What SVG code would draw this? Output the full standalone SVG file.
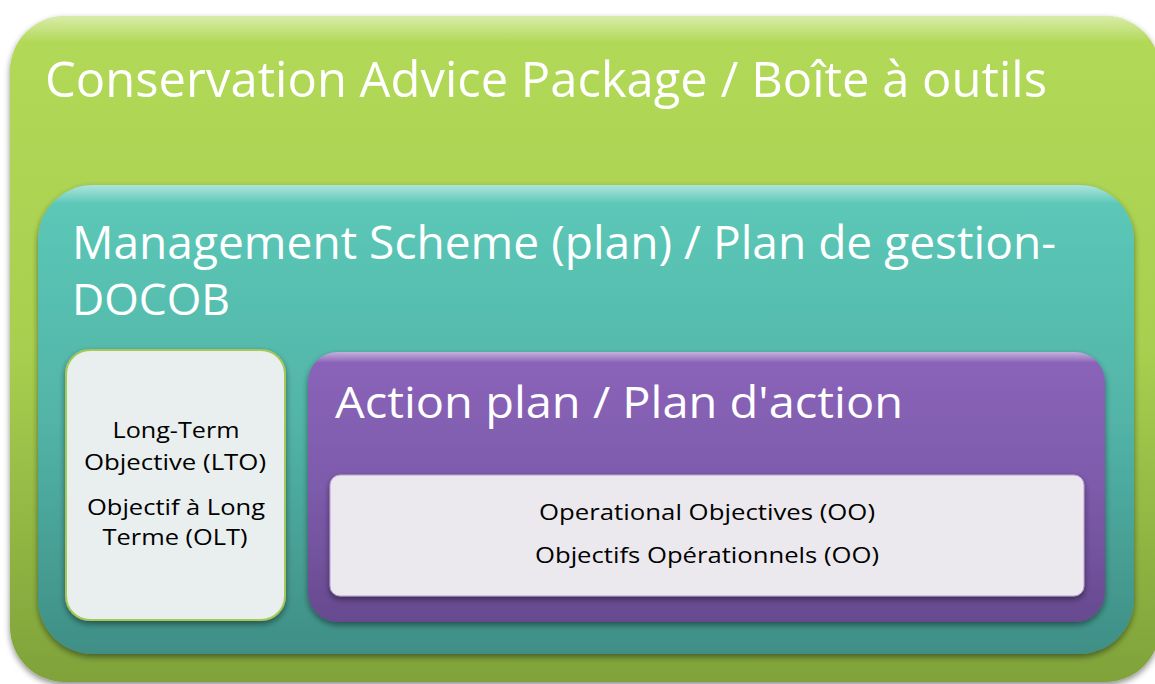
<svg xmlns="http://www.w3.org/2000/svg" width="1155" height="684" viewBox="0 0 1155 684">
<defs>
<linearGradient id="gGreen" x1="0" y1="0" x2="0" y2="1">
<stop offset="0" stop-color="#b2d957"/><stop offset="0.5" stop-color="#a8cf4f"/><stop offset="1" stop-color="#7fa23a"/>
</linearGradient>
<linearGradient id="gTeal" x1="0" y1="0" x2="0" y2="1">
<stop offset="0" stop-color="#5cc9b9"/><stop offset="0.5" stop-color="#52b4a7"/><stop offset="1" stop-color="#3f8f86"/>
</linearGradient>
<linearGradient id="gPurple" x1="0" y1="0" x2="0" y2="1">
<stop offset="0" stop-color="#8b64b9"/><stop offset="0.5" stop-color="#7d5bab"/><stop offset="1" stop-color="#674a8f"/>
</linearGradient>
<linearGradient id="gHi" x1="0" y1="0" x2="0" y2="1">
<stop offset="0" stop-color="#ffffff" stop-opacity="0.5"/><stop offset="0.04" stop-color="#ffffff" stop-opacity="0"/>
</linearGradient>
<filter id="sh" x="-5%" y="-5%" width="110%" height="115%">
<feGaussianBlur in="SourceAlpha" stdDeviation="3"/>
<feOffset dx="0" dy="3" result="b"/>
<feComponentTransfer><feFuncA type="linear" slope="0.45"/></feComponentTransfer>
<feMerge><feMergeNode/><feMergeNode in="SourceGraphic"/></feMerge>
</filter>
<style>
.big{font-family:"Open Sans","Liberation Sans",sans-serif;fill:#ffffff;}
.small{font-family:"Open Sans","Liberation Sans",sans-serif;fill:#000000;font-size:21px;text-anchor:middle;}
</style>
</defs>
<rect width="1155" height="684" fill="#ffffff"/>
<g id="package">
<rect x="10" y="16" width="1150" height="666" rx="55" fill="url(#gGreen)" filter="url(#sh)"/>
<rect x="10" y="16" width="1150" height="666" rx="55" fill="url(#gHi)"/>
<text class="big" x="45" y="97" font-size="49" textLength="1002" lengthAdjust="spacingAndGlyphs">Conservation Advice Package / Boîte à outils</text>
</g>
<g id="scheme">
<rect x="38" y="185" width="1096" height="469" rx="55" fill="url(#gTeal)" filter="url(#sh)"/>
<rect x="38" y="185" width="1096" height="469" rx="55" fill="url(#gHi)"/>
<text class="big" x="72" y="259" font-size="46" textLength="984" lengthAdjust="spacingAndGlyphs">Management Scheme (plan) / Plan de gestion-</text>
<text class="big" x="72" y="315" font-size="44" textLength="158" lengthAdjust="spacingAndGlyphs">DOCOB</text>
</g>
<g id="lto">
<rect x="66" y="350" width="219" height="270" rx="24" fill="#e9eeee" stroke="#a6c956" stroke-width="2" filter="url(#sh)"/>
<text class="small" x="176" y="438" textLength="127" lengthAdjust="spacingAndGlyphs">Long-Term</text>
<text class="small" x="175" y="470" textLength="182" lengthAdjust="spacingAndGlyphs">Objective (LTO)</text>
<text class="small" x="176" y="515" textLength="178" lengthAdjust="spacingAndGlyphs">Objectif à Long</text>
<text class="small" x="175" y="545" textLength="145" lengthAdjust="spacingAndGlyphs">Terme (OLT)</text>
</g>
<g id="action">
<rect x="308" y="352" width="797" height="270" rx="30" fill="url(#gPurple)" filter="url(#sh)"/>
<rect x="308" y="352" width="797" height="270" rx="30" fill="url(#gHi)"/>
<text class="big" x="335" y="418" font-size="44" textLength="568" lengthAdjust="spacingAndGlyphs">Action plan / Plan d'action</text>
</g>
<g id="oo">
<rect x="330" y="475" width="754" height="121" rx="10" fill="#ebe9ee" stroke="#b59fd0" stroke-width="1" filter="url(#sh)"/>
<text class="small" x="707" y="520" textLength="336" lengthAdjust="spacingAndGlyphs">Operational Objectives (OO)</text>
<text class="small" x="707" y="563" textLength="344" lengthAdjust="spacingAndGlyphs">Objectifs Opérationnels (OO)</text>
</g>
<g id="connectors"/>
</svg>
